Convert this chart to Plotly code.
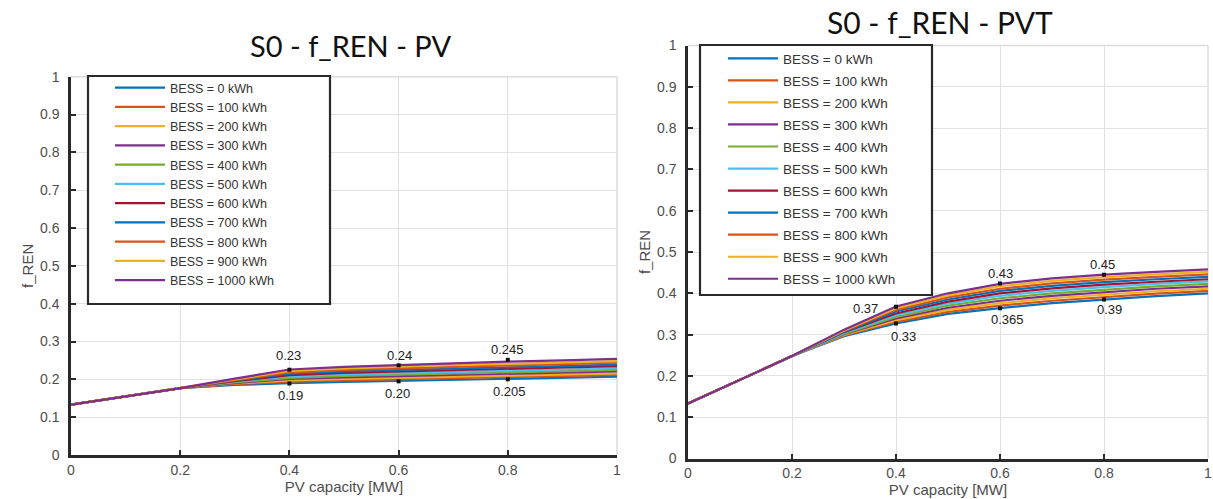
import plotly.graph_objects as go

# ---------------- data ----------------
pv_capacity = [0.0, 0.1, 0.2, 0.3, 0.4, 0.5, 0.6, 0.7, 0.8, 0.9, 1.0]
bess_labels = ["BESS = 0 kWh", "BESS = 100 kWh", "BESS = 200 kWh", "BESS = 300 kWh",
               "BESS = 400 kWh", "BESS = 500 kWh", "BESS = 600 kWh", "BESS = 700 kWh",
               "BESS = 800 kWh", "BESS = 900 kWh", "BESS = 1000 kWh"]

f_ren_pv = [
    [0.133, 0.155, 0.177, 0.185, 0.190, 0.193, 0.196, 0.198, 0.201, 0.204, 0.207],
    [0.133, 0.155, 0.177, 0.187, 0.194, 0.197, 0.200, 0.203, 0.206, 0.209, 0.212],
    [0.133, 0.155, 0.177, 0.189, 0.197, 0.201, 0.204, 0.207, 0.210, 0.213, 0.216],
    [0.133, 0.155, 0.177, 0.190, 0.201, 0.205, 0.208, 0.211, 0.214, 0.217, 0.221],
    [0.133, 0.155, 0.177, 0.192, 0.204, 0.209, 0.212, 0.215, 0.219, 0.222, 0.225],
    [0.133, 0.155, 0.177, 0.194, 0.208, 0.213, 0.216, 0.220, 0.223, 0.226, 0.230],
    [0.133, 0.155, 0.177, 0.195, 0.211, 0.217, 0.221, 0.224, 0.228, 0.231, 0.235],
    [0.133, 0.155, 0.177, 0.197, 0.215, 0.221, 0.225, 0.229, 0.232, 0.235, 0.239],
    [0.133, 0.155, 0.177, 0.198, 0.218, 0.225, 0.229, 0.233, 0.237, 0.240, 0.244],
    [0.133, 0.155, 0.177, 0.200, 0.222, 0.229, 0.234, 0.238, 0.241, 0.245, 0.248],
    [0.133, 0.155, 0.177, 0.202, 0.226, 0.233, 0.238, 0.243, 0.247, 0.250, 0.254],
]

f_ren_pvt = [
    [0.133, 0.190, 0.248, 0.296, 0.327, 0.350, 0.364, 0.376, 0.385, 0.393, 0.400],
    [0.133, 0.190, 0.248, 0.298, 0.331, 0.355, 0.370, 0.382, 0.391, 0.399, 0.406],
    [0.133, 0.190, 0.248, 0.299, 0.335, 0.360, 0.376, 0.388, 0.397, 0.405, 0.411],
    [0.133, 0.190, 0.248, 0.301, 0.339, 0.365, 0.382, 0.394, 0.403, 0.411, 0.417],
    [0.133, 0.190, 0.248, 0.302, 0.343, 0.370, 0.388, 0.400, 0.409, 0.417, 0.423],
    [0.133, 0.190, 0.248, 0.304, 0.347, 0.375, 0.394, 0.406, 0.415, 0.423, 0.429],
    [0.133, 0.190, 0.248, 0.306, 0.351, 0.380, 0.400, 0.412, 0.421, 0.428, 0.434],
    [0.133, 0.190, 0.248, 0.307, 0.356, 0.385, 0.406, 0.418, 0.427, 0.434, 0.440],
    [0.133, 0.190, 0.248, 0.309, 0.360, 0.390, 0.411, 0.424, 0.433, 0.440, 0.446],
    [0.133, 0.190, 0.248, 0.310, 0.364, 0.395, 0.417, 0.430, 0.439, 0.446, 0.452],
    [0.133, 0.190, 0.248, 0.312, 0.368, 0.400, 0.423, 0.436, 0.445, 0.452, 0.458],
]

# data tips (marked points and their labels)
tips_pv_x = [0.4, 0.6, 0.8, 0.4, 0.6, 0.8]
tips_pv_y = [0.2255, 0.237, 0.2515, 0.189, 0.1947, 0.200]
tips_pv_text = ["0.23", "0.24", "0.245", "0.19", "0.20", "0.205"]

tips_pvt_x = [0.4, 0.6, 0.8, 0.4, 0.6, 0.8]
tips_pvt_y = [0.3675, 0.424, 0.445, 0.327, 0.364, 0.385]
tips_pvt_text = ["0.37", "0.43", "0.45", "0.33", "0.365", "0.39"]

x_ticks = [0, 0.2, 0.4, 0.6, 0.8, 1.0]
x_ticktext = ["0", "0.2", "0.4", "0.6", "0.8", "1"]
y_ticks = [0, 0.1, 0.2, 0.3, 0.4, 0.5, 0.6, 0.7, 0.8, 0.9, 1.0]
y_ticktext = ["0", "0.1", "0.2", "0.3", "0.4", "0.5", "0.6", "0.7", "0.8", "0.9", "1"]

titles = ["S0 - f_REN - PV", "S0 - f_REN - PVT"]
x_title = "PV capacity [MW]"
y_title = "f_REN"

# ---------------- style ----------------
colors = ["#0072BD", "#D95319", "#EDB120", "#7E2F8E", "#77AC30", "#4DBEEE",
          "#A2142F", "#0072BD", "#D95319", "#EDB120", "#7E2F8E"]
W, H = 1213, 499
# plot area pixel boxes (left, right, top, bottom)
box_l = (71, 617, 76.7, 455)
box_r = (688, 1208, 45.5, 458.5)


def px_x(p):
    return p / W


def px_y(p):
    return 1 - p / H


fig = go.Figure()

for i, lab in enumerate(bess_labels):
    fig.add_trace(go.Scatter(
        x=pv_capacity, y=f_ren_pv[i], mode="lines", name=lab,
        line=dict(color=colors[i], width=2.2),
        xaxis="x", yaxis="y", legend="legend", legendgroup="L%d" % i,
    ))
for i, lab in enumerate(bess_labels):
    fig.add_trace(go.Scatter(
        x=pv_capacity, y=f_ren_pvt[i], mode="lines", name=lab,
        line=dict(color=colors[i], width=2.2),
        xaxis="x2", yaxis="y2", legend="legend2", legendgroup="R%d" % i,
    ))

fig.add_trace(go.Scatter(x=tips_pv_x, y=tips_pv_y, mode="markers", showlegend=False,
                         marker=dict(symbol="square", size=4, color="#111111"),
                         xaxis="x", yaxis="y"))
fig.add_trace(go.Scatter(x=tips_pvt_x, y=tips_pvt_y, mode="markers", showlegend=False,
                         marker=dict(symbol="square", size=4, color="#111111"),
                         xaxis="x2", yaxis="y2"))

# label offsets (px) for the tips
pv_shift = [(-1, 14), (1, 10), (0, 10), (1, -12), (-1, -12), (2, -12)]
pvt_shift = [(-31, -2), (0, 10), (-2, 10), (7, -13), (7, -11), (5, -10)]

annots = []
for (x, y, t), (dx, dy) in zip(zip(tips_pv_x, tips_pv_y, tips_pv_text), pv_shift):
    annots.append(dict(x=x, y=y, xref="x", yref="y", text=t, showarrow=False,
                       xshift=dx, yshift=dy,
                       font=dict(family="Liberation Sans, Arial", size=13, color="#222")))
for (x, y, t), (dx, dy) in zip(zip(tips_pvt_x, tips_pvt_y, tips_pvt_text), pvt_shift):
    annots.append(dict(x=x, y=y, xref="x2", yref="y2", text=t, showarrow=False,
                       xshift=dx, yshift=dy,
                       font=dict(family="Liberation Sans, Arial", size=13, color="#222")))

# titles
annots.append(dict(x=px_x(351), y=px_y(46), xref="paper", yref="paper", text=titles[0],
                   showarrow=False, xanchor="center", yanchor="middle",
                   font=dict(family="Lato", size=29, color="#111")))
annots.append(dict(x=px_x(940), y=px_y(22), xref="paper", yref="paper", text=titles[1],
                   showarrow=False, xanchor="center", yanchor="middle",
                   font=dict(family="Lato", size=30, color="#111")))

tick_font = dict(family="Liberation Sans, Arial", size=14, color="#4d4d4d")
title_font = dict(family="Liberation Sans, Arial", size=15, color="#4d4d4d")


def xaxis(domain, anchor):
    return dict(domain=domain, anchor=anchor, range=[0, 1], tickvals=x_ticks, ticktext=x_ticktext,
                showgrid=True, gridcolor="#e2e2e2", gridwidth=1, zeroline=False,
                showline=True, linecolor="#2a2a2a", linewidth=2.5,
                ticks="inside", ticklen=5, tickwidth=1.5, tickcolor="#2a2a2a",
                tickfont=tick_font, title=dict(text=x_title, font=title_font, standoff=4),
                automargin=False, fixedrange=True)


def yaxis(domain, anchor):
    return dict(domain=domain, anchor=anchor, range=[0, 1], tickvals=y_ticks, ticktext=y_ticktext,
                showgrid=True, gridcolor="#e2e2e2", gridwidth=1, zeroline=False,
                showline=True, linecolor="#2a2a2a", linewidth=2.5,
                ticks="inside", ticklen=5, tickwidth=1.5, tickcolor="#2a2a2a",
                ticklabelstandoff=6,
                tickfont=tick_font, title=dict(text=y_title, font=title_font, standoff=3),
                automargin=False, fixedrange=True)


legend_common = dict(bgcolor="rgba(0,0,0,0)", borderwidth=0, orientation="v",
                     xanchor="left", yanchor="top", itemwidth=50, itemclick=False,
                     itemdoubleclick=False)

shapes = []
for (x0, x1, y0, y1) in [(88, 330, 76, 304), (700, 932, 45, 295)]:
    shapes.append(dict(type="rect", xref="paper", yref="paper",
                       x0=px_x(x0), x1=px_x(x1), y0=px_y(y1), y1=px_y(y0),
                       line=dict(color="#2a2a2a", width=2.2), fillcolor="white", layer="above"))
# light top/right frame edges
for (l, r, t, b) in [box_l, box_r]:
    shapes.append(dict(type="line", xref="paper", yref="paper", x0=px_x(l), x1=px_x(r),
                       y0=px_y(t), y1=px_y(t), line=dict(color="#dcdcdc", width=1.5), layer="below"))
    shapes.append(dict(type="line", xref="paper", yref="paper", x0=px_x(r), x1=px_x(r),
                       y0=px_y(b), y1=px_y(t), line=dict(color="#dcdcdc", width=1.5), layer="below"))

fig.update_layout(
    width=W, height=H,
    margin=dict(l=0, r=0, t=0, b=0, pad=0, autoexpand=False),
    paper_bgcolor="white", plot_bgcolor="white",
    xaxis=xaxis([px_x(box_l[0]), px_x(box_l[1])], "y"),
    yaxis=yaxis([px_y(box_l[3]), px_y(box_l[2])], "x"),
    xaxis2=xaxis([px_x(box_r[0]), px_x(box_r[1])], "y2"),
    yaxis2=yaxis([px_y(box_r[3]), px_y(box_r[2])], "x2"),
    legend=dict(x=px_x(110), y=px_y(73), font=dict(family="Liberation Sans, Arial", size=12.5, color="#333"),
                tracegroupgap=0, **legend_common),
    legend2=dict(x=px_x(723), y=px_y(43), font=dict(family="Liberation Sans, Arial", size=13.5, color="#333"),
                 tracegroupgap=1.5, **legend_common),
    annotations=annots,
    shapes=shapes,
    showlegend=True,
    hovermode=False,
)

fig.write_html(
    "out.html",
    config={"displayModeBar": False, "staticPlot": False},
    post_script="document.body.style.margin='0px';document.body.style.padding='0px';",
)
